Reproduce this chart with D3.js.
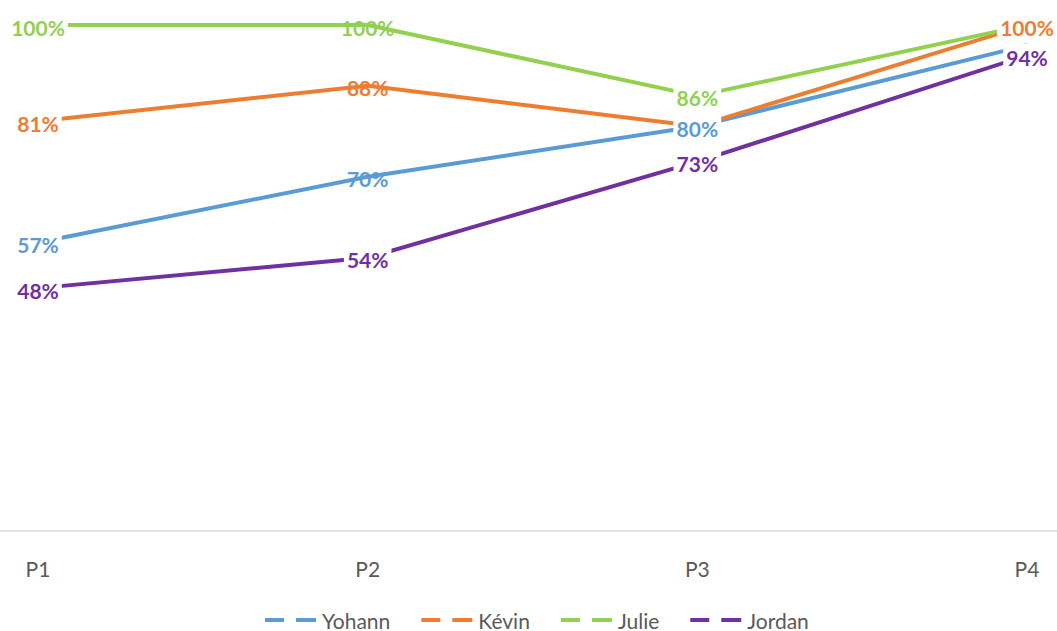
<!DOCTYPE html>
<html>
<head>
<meta charset="utf-8">
<script src="https://cdn.jsdelivr.net/npm/d3@7"></script>
<style>
  body { margin: 0; background: #fff; }
  svg { display: block; font-family: Lato, "Open Sans", sans-serif; }
</style>
</head>
<body>
<div id="main"></div>
<script>
// categories and series values (percent)
let periods = ['P1', 'P2', 'P3', 'P4'];
let names = ['Yohann', 'Kévin', 'Julie', 'Jordan'];
let colors = ['#5B9BD5', '#ED7D31', '#92D050', '#7030A0'];
let yohann = [57, 70, 80, 96];
let kevin = [81, 88, 80, 100];
let julie = [100, 100, 86, 100];
let jordan = [48, 54, 73, 94];

// labels sitting under the lines (no white box) and labels not shown
let plainLabels = [['Yohann', 'P2'], ['Kévin', 'P2'], ['Julie', 'P2']];
let hiddenLabels = [['Yohann', 'P4']];
// drawing order of the labels (later ones cover earlier ones)
let labelOrder = ['Julie', 'Kévin', 'Yohann', 'Jordan'];

let width = 1057;
let height = 631;

let series = names.map(function(n, i) {
  return { name: n, color: colors[i], values: [yohann, kevin, julie, jordan][i] };
});

let svg = d3.select('#main')
  .append('svg')
  .attr('width', width)
  .attr('height', height);

let x = d3.scalePoint()
  .domain(periods)
  .range([38, 1027]);

let y = d3.scaleLinear()
  .domain([0, 100])
  .range([531, 25]);

// category axis line across the whole width
svg.append('line')
  .attr('x1', 0)
  .attr('x2', width)
  .attr('y1', y(0))
  .attr('y2', y(0))
  .attr('stroke', '#d9d9d9')
  .attr('stroke-width', 1.5);

svg.append('g')
  .selectAll('text')
  .data(periods)
  .enter().append('text')
  .attr('x', function(d) { return x(d); })
  .attr('y', 568)
  .attr('text-anchor', 'middle')
  .attr('dominant-baseline', 'central')
  .attr('fill', '#595959')
  .style('font-size', '21px')
  .text(function(d) { return d; });

function inList(list, name, p) {
  return list.some(function(h) { return h[0] === name && h[1] === p; });
}

function labelData(plain) {
  let out = [];
  labelOrder.forEach(function(n) {
    let s = series.find(function(d) { return d.name === n; });
    periods.forEach(function(p, i) {
      if (inList(hiddenLabels, n, p)) return;
      if (inList(plainLabels, n, p) !== plain) return;
      out.push({ p: p, v: s.values[i], color: s.color });
    });
  });
  return out;
}

function drawLabels(g, data, boxed) {
  let items = g.selectAll('g')
    .data(data)
    .enter().append('g')
    .attr('transform', function(d) { return 'translate(' + x(d.p) + ',' + (y(d.v) + 2) + ')'; });

  items.append('text')
    .attr('text-anchor', 'middle')
    .attr('dominant-baseline', 'central')
    .attr('fill', function(d) { return d.color; })
    .style('font-size', '21px')
    .style('font-weight', 'bold')
    .text(function(d) { return d.v + '%'; });

  if (boxed) {
    items.insert('rect', 'text')
      .each(function() {
        let bb = this.parentNode.querySelector('text').getBBox();
        d3.select(this)
          .attr('x', bb.x - 3)
          .attr('y', bb.y - 1)
          .attr('width', bb.width + 6)
          .attr('height', bb.height + 2)
          .attr('fill', '#fff');
      });
  }
}

// labels that the lines run over
drawLabels(svg.append('g'), labelData(true), false);

let line = d3.line()
  .x(function(d, i) { return x(periods[i]); })
  .y(function(d) { return y(d); });

svg.append('g')
  .selectAll('path')
  .data(series)
  .enter().append('path')
  .attr('d', function(d) { return line(d.values); })
  .attr('fill', 'none')
  .attr('stroke', function(d) { return d.color; })
  .attr('stroke-width', 4)
  .attr('stroke-linejoin', 'round');

// boxed labels on top
drawLabels(svg.append('g'), labelData(false), true);

// legend
let legend = svg.append('g');
let lx = 0;
series.forEach(function(s) {
  let item = legend.append('g').attr('transform', 'translate(' + lx + ',0)');
  item.append('line').attr('x1', 0).attr('x2', 19).attr('y1', 0).attr('y2', 0)
    .attr('stroke', s.color).attr('stroke-width', 4);
  item.append('line').attr('x1', 31).attr('x2', 51).attr('y1', 0).attr('y2', 0)
    .attr('stroke', s.color).attr('stroke-width', 4);
  let t = item.append('text')
    .attr('x', 57)
    .attr('y', 0)
    .attr('dominant-baseline', 'central')
    .attr('fill', '#595959')
    .style('font-size', '21px')
    .text(s.name);
  lx += 57 + t.node().getComputedTextLength() + 31;
});
legend.attr('transform', 'translate(265,620)');
</script>
</body>
</html>
